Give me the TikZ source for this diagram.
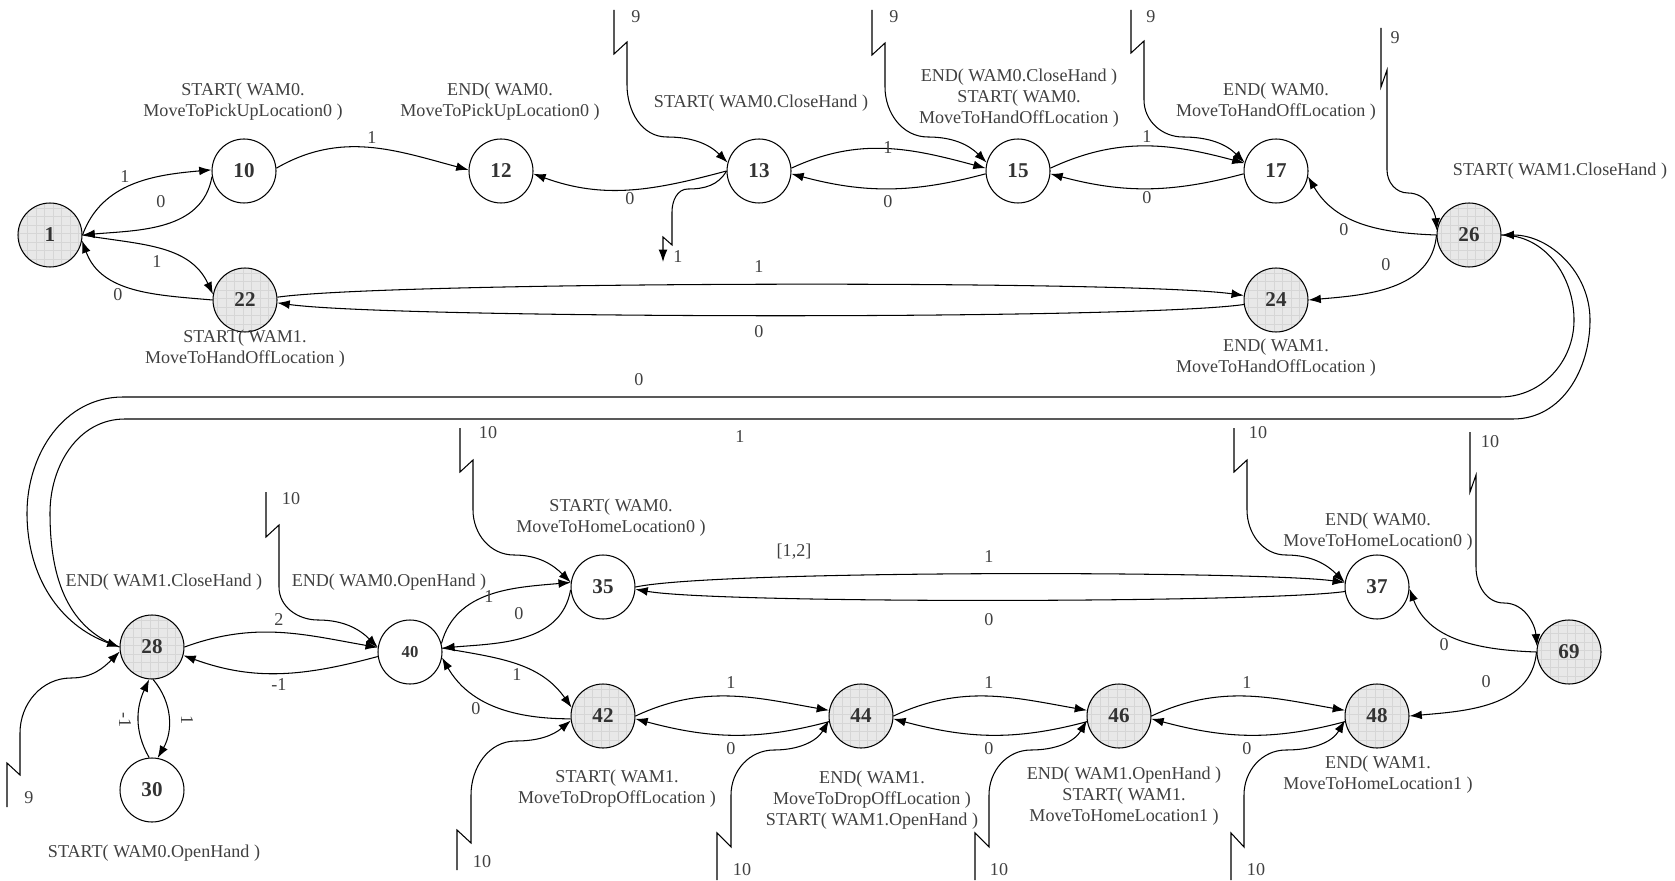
\documentclass[tikz,border=0pt]{standalone}
\usepackage{fontspec}
\setmainfont{Liberation Serif}
\usetikzlibrary{arrows.meta}

\tikzset{
  st/.style={circle, draw, line width=0.6pt, minimum size=1.28cm, inner sep=0pt,
    font=\fontsize{12}{12}\selectfont\bfseries, text=black!80},
  stg/.style={st, fill=black!9, path picture={
      \draw[black!16, line width=0.3pt] (path picture bounding box.south west)
        grid[step=0.17cm] (path picture bounding box.north east);}},
  lbl/.style={font=\fontsize{10.3}{12}\selectfont, text=black!75, inner sep=0pt},
  note/.style={lbl, align=center},
  tr/.style={->, line width=0.6pt},
}

\begin{document}
\begin{tikzpicture}[x=0.02cm, y=0.02cm, >={Latex[length=7pt,width=5pt]}]
  \useasboundingbox (0,0) rectangle (1675,-881);

  % states, upper part
  \node[stg] (n1)  at (50,-235)   {1};
  \node[st]  (n10) at (244,-171)  {10};
  \node[st]  (n12) at (501,-171)  {12};
  \node[st]  (n13) at (759,-171)  {13};
  \node[st]  (n15) at (1018,-171) {15};
  \node[st]  (n17) at (1276,-171) {17};
  \node[stg] (n26) at (1469,-235) {26};
  \node[stg] (n22) at (245,-300)  {22};
  \node[stg] (n24) at (1276,-300) {24};
  % states, lower part
  \node[stg] (n28) at (152,-647)  {28};
  \node[st]  (n30) at (152,-790)  {30};
  \node[st, font=\fontsize{9.5}{10}\selectfont\bfseries] (n40) at (410,-652) {40};
  \node[st]  (n35) at (603,-587)  {35};
  \node[st]  (n37) at (1377,-587) {37};
  \node[stg] (n69) at (1569,-652) {69};
  \node[stg] (n42) at (603,-716)  {42};
  \node[stg] (n44) at (861,-716)  {44};
  \node[stg] (n46) at (1119,-716) {46};
  \node[stg] (n48) at (1377,-716) {48};

  % actions
  \node[note] (a10) at (243,-102)  {START( WAM0.\\MoveToPickUpLocation0 )};
  \node[note] (a12) at (500,-102)  {END( WAM0.\\MoveToPickUpLocation0 )};
  \node[note] (a13) at (761,-103)  {START( WAM0.CloseHand )};
  \node[note] (a15) at (1019,-98)  {END( WAM0.CloseHand )\\START( WAM0.\\MoveToHandOffLocation )};
  \node[note] (a17) at (1276,-102) {END( WAM0.\\MoveToHandOffLocation )};
  \node[note] (a26) at (1560,-171) {START( WAM1.CloseHand )};
  \node[note] (a22) at (245,-349)  {START( WAM1.\\MoveToHandOffLocation )};
  \node[note] (a24) at (1276,-358) {END( WAM1.\\MoveToHandOffLocation )};
  \node[note] (a28) at (164,-582)  {END( WAM1.CloseHand )};
  \node[note] (a40) at (389,-582)  {END( WAM0.OpenHand )};
  \node[note] (a30) at (154,-853)  {START( WAM0.OpenHand )};
  \node[note] (a35) at (611,-518)  {START( WAM0.\\MoveToHomeLocation0 )};
  \node[note] (a37) at (1378,-532) {END( WAM0.\\MoveToHomeLocation0 )};
  \node[note] (a42) at (617,-789)  {START( WAM1.\\MoveToDropOffLocation )};
  \node[note] (a44) at (872,-800)  {END( WAM1.\\MoveToDropOffLocation )\\START( WAM1.OpenHand )};
  \node[note] (a46) at (1124,-796) {END( WAM1.OpenHand )\\START( WAM1.\\MoveToHomeLocation1 )};
  \node[note] (a48) at (1378,-775) {END( WAM1.\\MoveToHomeLocation1 )};

  % free ends of the jump lines
  \coordinate (t13) at (614,-10);
  \coordinate (t15) at (872,-10);
  \coordinate (t17) at (1131,-10);
  \coordinate (t26) at (1381,-28);
  \coordinate (o13) at (663,-262);
  \coordinate (b28) at (7,-807);
  \coordinate (t40) at (266,-492);
  \coordinate (t35) at (460,-428);
  \coordinate (t37) at (1234,-428);
  \coordinate (t69) at (1470,-432);
  \coordinate (b42) at (457,-870);
  \coordinate (b44) at (717,-880);
  \coordinate (b46) at (975,-880);
  \coordinate (b48) at (1231,-880);

  % transitions, upper part
  \draw[tr] (n1.east) to[out=70,in=185] (n10.178);
  \draw[tr] (n10.190) to[out=-100,in=5] (n1.east);
  \draw[tr] (n1.east) to[out=-10,in=115] (n22.170);
  \draw[tr] (n22.west) to[out=175,in=-70] (n1.-10);
  \draw[tr] (n10.5) to[out=30,in=165] (n12.178);
  \draw[tr] (n13.west) to[out=195,in=-20] (n12.-5);
  \draw[tr] (n13.5) to[out=25,in=165] (n15.175);
  \draw[tr] (n15.185) to[out=195,in=-15] (n13.-5);
  \draw[tr] (n15.5) to[out=25,in=165] (n17.166);
  \draw[tr] (n17.185) to[out=195,in=-15] (n15.-5);
  \draw[tr] (n26.west) to[out=178,in=-60] (n17.-10);
  \draw[tr] (n26.west) to[out=-95,in=5] (n24.east);
  \draw[tr] (n22.5) to[out=8,in=172,looseness=0.3] (n24.172);
  \draw[tr] (n24.188) to[out=188,in=-8,looseness=0.3] (n22.-5);
  % jumps in and out, upper part
  \draw[tr] (t13) -- ++(0,-44) -- ++(13,12) -- (627,-85)
    to[out=-90,in=180] (667,-137) to[out=0,in=135] (n13.165);
  \draw[tr] (t15) -- ++(0,-45) -- ++(13,12) -- (885,-87)
    to[out=-90,in=180] (928,-137) to[out=0,in=135] (n15.165);
  \draw[tr] (t17) -- ++(0,-43) -- ++(13,12) -- (1144,-100)
    to[out=-90,in=180] (1183,-137) to[out=0,in=135] (n17.165);
  \draw[tr] (t26) -- ++(0,-59) -- ++(6,17) -- (1387,-170)
    to[out=-90,in=180] (1408,-193) to[out=0,in=95] (n26.172);
  \draw[tr] (n13.west) to[out=240,in=0] (688,-189) to[out=180,in=90] (672,-212)
    -- (672,-245) -- (663,-237) -- (o13);

  % long loops between 26 and 28
  \draw[tr] (n26.east) to[out=0,in=90] (1574,-320) to[out=-90,in=0] (1500,-397)
    -- (123,-397) to[out=180,in=90] (27,-513) to[out=-90,in=160] (n28.west);
  \draw[tr] (n28.west) to[out=160,in=-90] (50,-513) to[out=90,in=180] (125,-419)
    -- (1513,-419) to[out=0,in=-90] (1590,-320) to[out=90,in=0] (n26.east);

  % transitions, lower part
  \draw[tr] (n28.east) to[out=20,in=170] (n40.172);
  \draw[tr] (n40.188) to[out=195,in=-20] (n28.-15);
  \draw[tr] (n28.-88) to[out=-50,in=60] (n30.80);
  \draw[tr] (n30.95) to[out=120,in=-115] (n28.-95);
  \draw[tr] (n40.15) to[out=75,in=185] (n35.172);
  \draw[tr] (n35.185) to[out=-100,in=5] (n40.7);
  \draw[tr] (n40.7) to[out=-10,in=125] (n42.165);
  \draw[tr] (n42.185) to[out=180,in=-60] (n40.-10);
  \draw[tr] (n35.east) to[out=12,in=172,looseness=0.3] (n37.172);
  \draw[tr] (n37.188) to[out=188,in=-10,looseness=0.3] (n35.-4);
  \draw[tr] (n69.west) to[out=178,in=-70] (n37.-3);
  \draw[tr] (n69.west) to[out=-95,in=5] (n48.east);
  \draw[tr] (n42.east) to[out=25,in=170] (n44.170);
  \draw[tr] (n44.190) to[out=195,in=-15] (n42.-5);
  \draw[tr] (n44.east) to[out=25,in=170] (n46.170);
  \draw[tr] (n46.190) to[out=195,in=-15] (n44.-5);
  \draw[tr] (n46.east) to[out=25,in=170] (n48.170);
  \draw[tr] (n48.190) to[out=195,in=-15] (n46.-5);
  % jumps in, lower part
  \draw[tr] (b28) -- ++(0,44) -- ++(13,-12) -- (20,-733)
    to[out=90,in=180] (71,-678) to[out=0,in=-135] (n28.188);
  \draw[tr] (t40) -- ++(0,-45) -- ++(13,12) -- (279,-587)
    to[out=-90,in=180] (318,-620) to[out=0,in=135] (n40.172);
  \draw[tr] (t35) -- ++(0,-44) -- ++(13,12) -- (473,-510)
    to[out=-90,in=180] (514,-555) to[out=0,in=135] (n35.172);
  \draw[tr] (t37) -- ++(0,-44) -- ++(13,12) -- (1247,-510)
    to[out=-90,in=180] (1286,-555) to[out=0,in=135] (n37.172);
  \draw[tr] (t69) -- ++(0,-60) -- ++(6,17) -- (1476,-567)
    to[out=-90,in=180] (1504,-603) to[out=0,in=95] (n69.170);
  \draw[tr] (b42) -- ++(0,40) -- ++(14,-13) -- (471,-795)
    to[out=90,in=180] (516,-741) to[out=0,in=-140] (n42.188);
  \draw[tr] (b44) -- ++(0,47) -- ++(14,-14) -- (731,-795)
    to[out=90,in=180] (774,-750) to[out=0,in=-120] (n44.188);
  \draw[tr] (b46) -- ++(0,47) -- ++(14,-14) -- (989,-795)
    to[out=90,in=180] (1031,-750) to[out=0,in=-120] (n46.188);
  \draw[tr] (b48) -- ++(0,47) -- ++(13,-14) -- (1244,-795)
    to[out=90,in=180] (1286,-750) to[out=0,in=-120] (n48.188);

  % edge values, upper part
  \node[lbl] (v1a)  at (125,-177)  {1};
  \node[lbl] (v1b)  at (161,-202)  {0};
  \node[lbl] (v1c)  at (157,-262)  {1};
  \node[lbl] (v1d)  at (118,-295)  {0};
  \node[lbl] (v10)  at (372,-138)  {1};
  \node[lbl] (v13a) at (630,-199)  {0};
  \node[lbl] (v13b) at (888,-148)  {1};
  \node[lbl] (v13c) at (888,-202)  {0};
  \node[lbl] (v15a) at (1147,-137) {1};
  \node[lbl] (v15b) at (1147,-198) {0};
  \node[lbl] (v26a) at (1344,-230) {0};
  \node[lbl] (v26b) at (1386,-265) {0};
  \node[lbl] (v22a) at (759,-267)  {1};
  \node[lbl] (v22b) at (759,-332)  {0};
  \node[lbl] (v26c) at (639,-380)  {0};
  \node[lbl] (v28a) at (740,-437)  {1};
  \node[lbl] (j13)  at (636,-17)   {9};
  \node[lbl] (j15)  at (894,-17)   {9};
  \node[lbl] (j17)  at (1151,-17)  {9};
  \node[lbl] (j26)  at (1395,-38)  {9};
  \node[lbl] (jo13) at (678,-257)  {1};
  % edge values, lower part
  \node[lbl] (v28b) at (279,-620)  {2};
  \node[lbl] (v28c) at (279,-685)  {-1};
  \node[lbl, rotate=-90] (v28d) at (187,-720) {1};
  \node[lbl, rotate=-90] (v28e) at (125,-720) {-1};
  \node[lbl] (v40a) at (489,-597)  {1};
  \node[lbl] (v40b) at (519,-614)  {0};
  \node[lbl] (v40c) at (517,-675)  {1};
  \node[lbl] (v40d) at (476,-709)  {0};
  \node[lbl] (v35a) at (794,-552)  {[1,2]};
  \node[lbl] (v35b) at (989,-557)  {1};
  \node[lbl] (v35c) at (989,-620)  {0};
  \node[lbl] (v69a) at (1444,-645) {0};
  \node[lbl] (v69b) at (1486,-682) {0};
  \node[lbl] (v42a) at (731,-683)  {1};
  \node[lbl] (v42b) at (731,-749)  {0};
  \node[lbl] (v44a) at (989,-683)  {1};
  \node[lbl] (v44b) at (989,-749)  {0};
  \node[lbl] (v46a) at (1247,-683) {1};
  \node[lbl] (v46b) at (1247,-749) {0};
  \node[lbl] (j28)  at (29,-798)   {9};
  \node[lbl] (j40)  at (291,-499)  {10};
  \node[lbl] (j35)  at (488,-433)  {10};
  \node[lbl] (j37)  at (1258,-433) {10};
  \node[lbl] (j69)  at (1490,-442) {10};
  \node[lbl] (j42)  at (482,-862)  {10};
  \node[lbl] (j44)  at (742,-870)  {10};
  \node[lbl] (j46)  at (999,-870)  {10};
  \node[lbl] (j48)  at (1256,-870) {10};
\end{tikzpicture}
\end{document}
